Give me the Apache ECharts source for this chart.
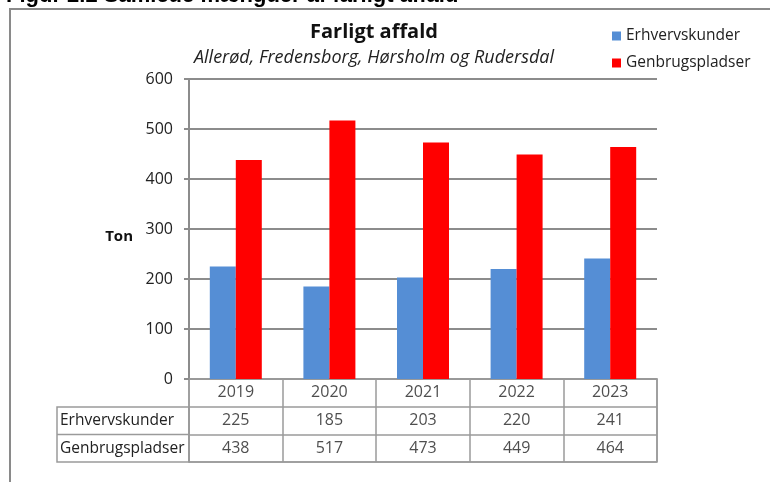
<!DOCTYPE html>
<html>
<head>
<meta charset="utf-8">
<script src="https://cdn.jsdelivr.net/npm/echarts@6/dist/echarts.min.js"></script>
<style>
  html, body { margin: 0; padding: 0; background: #fff; }
  #chart { width: 770px; height: 482px; }
</style>
</head>
<body>
<div id="chart"></div>
<script>
const years = ['2019', '2020', '2021', '2022', '2023']
const erhvervskunder = [225, 185, 203, 220, 241]
const genbrugspladser = [438, 517, 473, 449, 464]
const seriesNames = ['Erhvervskunder', 'Genbrugspladser']
const yTicks = { min: 0, max: 600, interval: 100 }

const FONT = '"Open Sans", "Noto Sans", sans-serif'
const GRID_LINE = '#8c8c8c'
const TABLE_LINE = '#9a9a9a'
const COLORS = ['#558ED5', '#FF0000']

// table rows: header row with years, then one row per series
const tableRows = ['header', ...seriesNames]
const tableData = []
years.forEach((y, i) => {
  tableData.push([y, 'header', y])
  tableData.push([y, seriesNames[0], erhvervskunder[i]])
  tableData.push([y, seriesNames[1], genbrugspladser[i]])
})

const chart = echarts.init(document.getElementById('chart'))

chart.setOption({
  animation: false,
  textStyle: { fontFamily: FONT },
  title: {
    text: 'Farligt affald',
    subtext: 'Allerød, Fredensborg, Hørsholm og Rudersdal',
    left: 374,
    top: 22,
    padding: 0,
    itemGap: 7,
    textAlign: 'center',
    textStyle: { fontFamily: FONT, fontSize: 20, fontWeight: 'bold', color: '#111' },
    subtextStyle: { fontFamily: FONT, fontSize: 18, fontStyle: 'italic', color: '#222' },
  },
  legend: {
    data: seriesNames,
    orient: 'vertical',
    left: 612,
    top: 27,
    padding: 0,
    itemWidth: 9,
    itemHeight: 9,
    itemGap: 9,
    icon: 'rect',
    textStyle: { fontFamily: FONT, fontSize: 15.5, color: '#222', lineHeight: 18 },
  },
  grid: [
    { left: 189, right: 113, top: 79, bottom: 103 },
    { left: 189, right: 113, top: 379, height: 83, show: true, borderColor: TABLE_LINE, borderWidth: 1.5 },
  ],
  xAxis: [
    {
      type: 'category',
      gridIndex: 0,
      data: years,
      axisLabel: { show: false },
      axisTick: { show: false },
      axisLine: { show: false },
    },
    {
      type: 'category',
      gridIndex: 1,
      data: years,
      position: 'top',
      axisLabel: { show: false },
      axisTick: { show: false },
      axisLine: { show: true, lineStyle: { color: TABLE_LINE, width: 1.5 } },
      splitLine: { show: true, lineStyle: { color: TABLE_LINE, width: 1.5 } },
    },
  ],
  yAxis: [
    {
      type: 'value',
      gridIndex: 0,
      min: yTicks.min,
      max: yTicks.max,
      interval: yTicks.interval,
      name: 'Ton',
      nameLocation: 'middle',
      nameRotate: 0,
      nameGap: 56,
      nameTextStyle: { fontFamily: FONT, fontSize: 15, fontWeight: 'bold', color: '#111', verticalAlign: 'top', lineHeight: 16 },
      axisLine: { show: true, lineStyle: { color: GRID_LINE, width: 2 } },
      axisTick: { show: true, length: 5, lineStyle: { color: GRID_LINE, width: 2 } },
      axisLabel: { fontFamily: FONT, fontSize: 16, color: '#222', margin: 16 },
      splitLine: { lineStyle: { color: GRID_LINE, width: 2 } },
    },
    {
      type: 'category',
      gridIndex: 1,
      data: tableRows,
      inverse: true,
      axisLine: { show: false },
      axisTick: { show: false },
      axisLabel: {
        fontFamily: FONT,
        fontSize: 15.5,
        color: '#222',
        align: 'left',
        margin: 129,
        formatter: (v) => (v === 'header' ? '' : v),
      },
      splitLine: { show: true, lineStyle: { color: TABLE_LINE, width: 1.5 } },
    },
  ],
  series: [
    {
      name: seriesNames[0],
      type: 'bar',
      xAxisIndex: 0,
      yAxisIndex: 0,
      data: erhvervskunder,
      barWidth: 26,
      barGap: '0%',
      itemStyle: { color: COLORS[0] },
    },
    {
      name: seriesNames[1],
      type: 'bar',
      xAxisIndex: 0,
      yAxisIndex: 0,
      data: genbrugspladser,
      barWidth: 26,
      barGap: '0%',
      itemStyle: { color: COLORS[1] },
    },
    {
      name: 'table',
      type: 'scatter',
      xAxisIndex: 1,
      yAxisIndex: 1,
      data: tableData,
      symbolSize: 1,
      silent: true,
      itemStyle: { color: 'rgba(0,0,0,0)' },
      label: {
        show: true,
        position: 'inside',
        fontFamily: FONT,
        fontSize: 16,
        color: '#222',
        formatter: (p) => String(p.data[2]),
      },
    },
  ],
  graphic: [
    // caption above the chart frame, cut off at the top edge
    {
      type: 'text',
      left: 6,
      top: -15,
      style: { text: 'Figur 2.2 Samlede mængder af farligt affald', font: 'bold 22px "Liberation Sans", Arial, sans-serif', fill: '#000' },
    },
    // chart frame
    {
      type: 'rect',
      shape: { x: 10, y: 9, width: 800, height: 520 },
      style: { fill: 'none', stroke: '#8a8a8a', lineWidth: 2 },
    },
    // row label cells of the data table
    {
      type: 'rect',
      shape: { x: 57, y: 407, width: 132, height: 55 },
      style: { fill: 'none', stroke: TABLE_LINE, lineWidth: 1.5 },
    },
    {
      type: 'line',
      shape: { x1: 57, y1: 434.5, x2: 189, y2: 434.5 },
      style: { stroke: TABLE_LINE, lineWidth: 1.5 },
    },
  ],
})
</script>
</body>
</html>
